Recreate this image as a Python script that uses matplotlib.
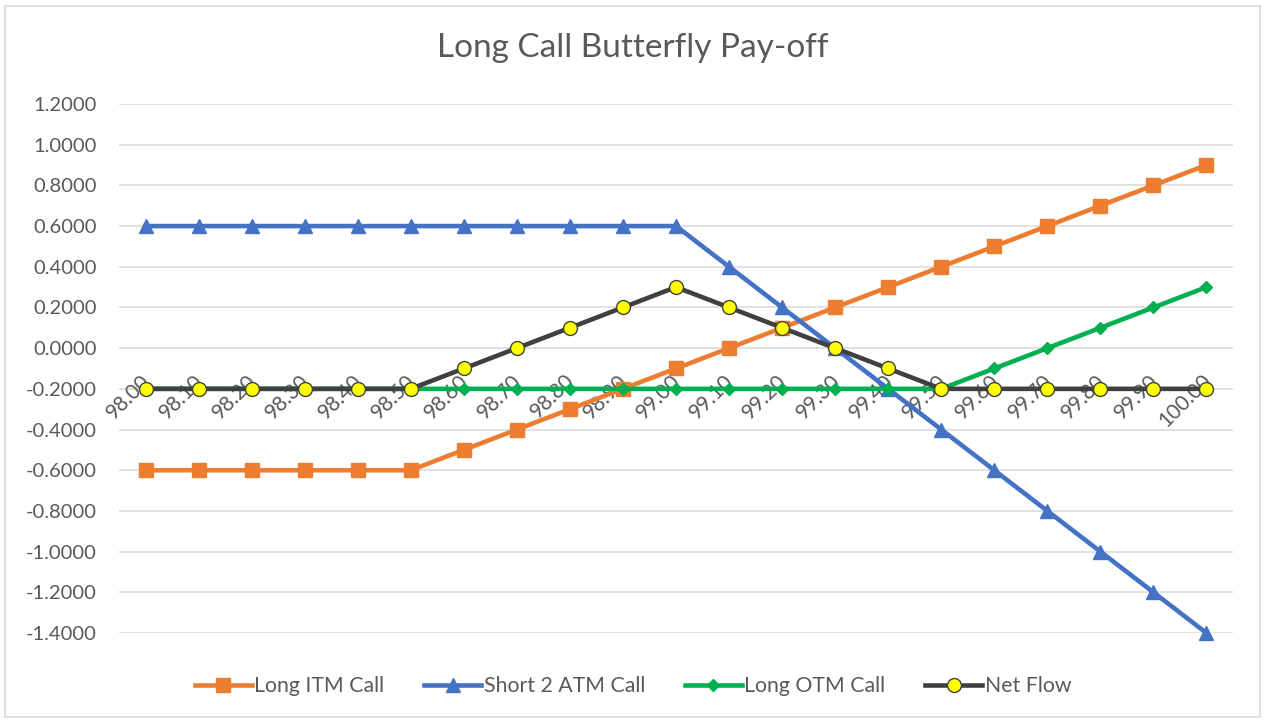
import matplotlib
matplotlib.use("Agg")
import matplotlib.pyplot as plt
from matplotlib.patches import Rectangle

# Underlying prices at expiry (category axis)
prices = ["98.00", "98.10", "98.20", "98.30", "98.40", "98.50", "98.60",
          "98.70", "98.80", "98.90", "99.00", "99.10", "99.20", "99.30",
          "99.40", "99.50", "99.60", "99.70", "99.80", "99.90", "100.00"]

# Pay-off of each leg and the net position
long_itm = [-0.6, -0.6, -0.6, -0.6, -0.6, -0.6, -0.5, -0.4, -0.3, -0.2, -0.1,
            0.0, 0.1, 0.2, 0.3, 0.4, 0.5, 0.6, 0.7, 0.8, 0.9]
short_atm = [0.6, 0.6, 0.6, 0.6, 0.6, 0.6, 0.6, 0.6, 0.6, 0.6, 0.6,
             0.4, 0.2, 0.0, -0.2, -0.4, -0.6, -0.8, -1.0, -1.2, -1.4]
long_otm = [-0.2, -0.2, -0.2, -0.2, -0.2, -0.2, -0.2, -0.2, -0.2, -0.2, -0.2,
            -0.2, -0.2, -0.2, -0.2, -0.2, -0.1, 0.0, 0.1, 0.2, 0.3]
net_flow = [-0.2, -0.2, -0.2, -0.2, -0.2, -0.2, -0.1, 0.0, 0.1, 0.2, 0.3,
            0.2, 0.1, 0.0, -0.1, -0.2, -0.2, -0.2, -0.2, -0.2, -0.2]

y_ticks = [-1.4, -1.2, -1.0, -0.8, -0.6, -0.4, -0.2, 0.0, 0.2, 0.4, 0.6, 0.8, 1.0, 1.2]

FONT = "Lato"
TXT = "#595959"
plt.rcParams["font.family"] = [FONT, "DejaVu Sans"]

W, H = 1266, 722
fig = plt.figure(figsize=(W / 100, H / 100), dpi=100)
ax = fig.add_axes([119 / W, 1 - 633 / H, (1233 - 119) / W, (633 - 104) / H])

x = list(range(len(prices)))

ax.set_xlim(-0.5, len(prices) - 0.5)
ax.set_ylim(-1.4, 1.2)

# horizontal gridlines
for yv in y_ticks:
    ax.axhline(yv, color="#D9D9D9", lw=1.1, zorder=0.5)

ax.set_yticks(y_ticks)
ax.set_yticklabels([f"{v:.4f}" for v in y_ticks], fontsize=14.5, color=TXT)
ax.tick_params(axis="y", length=0, pad=16)
ax.set_xticks([])
for s in ax.spines.values():
    s.set_visible(False)

# rotated category labels sitting just under the zero line
for xi, lab in zip(x, prices):
    ax.text(xi - 0.1, -0.11, lab, rotation=45, rotation_mode="anchor",
            ha="right", va="top", fontsize=15, color=TXT, zorder=1)

lw = 3.3
ax.plot(x, long_itm, color="#ED7D31", lw=lw, marker="s", ms=9.5,
        label="Long ITM Call", zorder=3, clip_on=False)
ax.plot(x, short_atm, color="#4472C4", lw=lw, marker="^", ms=10,
        label="Short 2 ATM Call", zorder=4, clip_on=False)
ax.plot(x, long_otm, color="#00B050", lw=lw, marker="D", ms=6.5,
        label="Long OTM Call", zorder=5, clip_on=False)
ax.plot(x, net_flow, color="#404040", lw=lw, marker="o", ms=10,
        markerfacecolor="#FFFF00", markeredgecolor="#404040", markeredgewidth=1.0,
        label="Net Flow", zorder=6, clip_on=False)

fig.text(0.5, 1 - 48 / H, "Long Call Butterfly Pay-off", ha="center", va="center",
         fontsize=24, color=TXT)

leg = fig.legend(loc="center", bbox_to_anchor=(0.5, 1 - 686 / H), ncol=4,
                 frameon=False, fontsize=15.3, handlelength=2.7,
                 handletextpad=0.12, columnspacing=1.85)
for t in leg.get_texts():
    t.set_color(TXT)

# chart-area border
fig.add_artist(Rectangle((5 / W, 5 / H), 1 - 11 / W, 1 - 11 / H, transform=fig.transFigure,
                         fill=False, edgecolor="#D9D9D9", lw=1.2))

fig.savefig("out.png", dpi=100)
